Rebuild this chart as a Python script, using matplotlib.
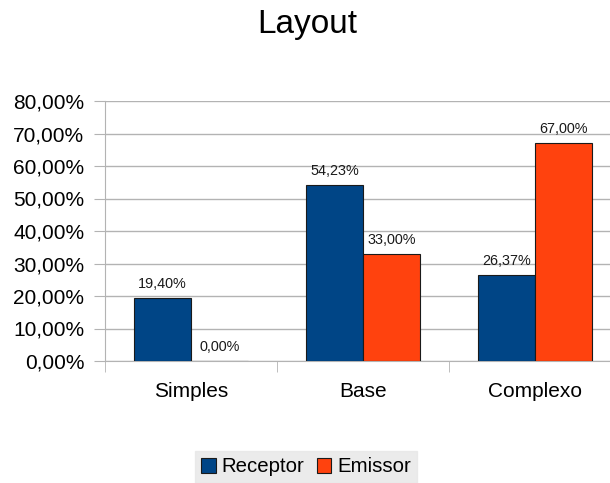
import matplotlib
matplotlib.use("Agg")
from matplotlib import pyplot as plt
from matplotlib.ticker import FixedLocator, FuncFormatter
import numpy as np

categories = ["Simples", "Base", "Complexo"]
receptor = [19.40, 54.23, 26.37]
emissor = [0.00, 33.00, 67.00]
series_names = ["Receptor", "Emissor"]
colors = ["#004586", "#ff420e"]

plt.rcParams["font.family"] = ["Liberation Sans", "DejaVu Sans"]

W, H = 610, 483
fig = plt.figure(figsize=(W / 100, H / 100), dpi=100)
# plot area runs a little past the right edge of the figure
ax = fig.add_axes([105 / W, 122 / H, 516 / W, 260 / H])

x = np.arange(len(categories))
bw = 1 / 3
for i, (vals, name, c) in enumerate(zip([receptor, emissor], series_names, colors)):
    pos = x - bw / 2 + i * bw
    ax.bar(pos, vals, width=bw, color=c, edgecolor="#1a1a1a", linewidth=0.8,
           label=name, zorder=3)
    for p, v in zip(pos, vals):
        ax.annotate(("%.2f%%" % v).replace(".", ","), (p, v),
                    xytext=(0, 5), textcoords="offset points",
                    ha="center", va="bottom", fontsize=10.4, color="#1a1a1a")

ax.set_xlim(-0.5, 2.5)
ax.set_ylim(0, 80)
ax.yaxis.set_major_locator(FixedLocator(np.arange(0, 81, 10)))
ax.yaxis.set_major_formatter(FuncFormatter(lambda v, _: ("%.2f%%" % v).replace(".", ",")))
ax.grid(axis="y", color="#b3b3b3", linewidth=1, zorder=0)

ax.set_xticks(x)
ax.set_xticklabels(categories)
ax.xaxis.set_minor_locator(FixedLocator([-0.5, 0.5, 1.5, 2.5]))
ax.tick_params(axis="x", which="major", length=0, pad=15, labelsize=15)
ax.tick_params(axis="x", which="minor", length=8, color="#b3b3b3", direction="out")
ax.tick_params(axis="y", length=8, color="#b3b3b3", labelsize=15, pad=7)

for s in ["top", "right"]:
    ax.spines[s].set_visible(False)
for s in ["left", "bottom"]:
    ax.spines[s].set_color("#b3b3b3")

fig.text(307 / W, 1 - 25 / H, "Layout", ha="center", va="center", fontsize=24)

leg = fig.legend(loc="center", bbox_to_anchor=(306 / W, 1 - 467 / H), ncol=2,
                 fontsize=14.7, frameon=True, fancybox=False, handlelength=0.7,
                 handleheight=0.7, handletextpad=0.3, columnspacing=0.6,
                 borderpad=0.3, borderaxespad=0)
leg.get_frame().set_facecolor("#e6e6e6")
leg.get_frame().set_edgecolor("#e6e6e6")

fig.savefig("out.png", dpi=100)
